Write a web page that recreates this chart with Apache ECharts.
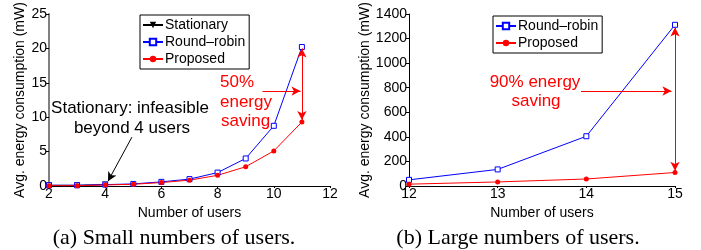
<!DOCTYPE html>
<html>
<head>
<meta charset="utf-8">
<script src="https://cdn.jsdelivr.net/npm/echarts@6/dist/echarts.min.js"></script>
<style>
html,body{margin:0;padding:0;background:#fff;}
#main{width:701px;height:250px;}
</style>
</head>
<body>
<div id="main"></div>
<script>
// (a) small numbers of users
var usersSmall = [2, 3, 4, 5, 6, 7, 8, 9, 10, 11];
var stationarySmall = [0.1, 0.1, 0.2];
var roundRobinSmall = [0.1, 0.1, 0.2, 0.3, 0.6, 1.0, 1.95, 4.0, 8.75, 20.2];
var proposedSmall = [0.05, 0.05, 0.15, 0.25, 0.5, 0.85, 1.55, 2.8, 5.1, 9.3];

// (b) large numbers of users
var usersLarge = [12, 13, 14, 15];
var roundRobinLarge = [50, 135, 405, 1312];
var proposedLarge = [15, 33, 57, 110];

function pairs(xs, ys) {
    var out = [];
    for (var i = 0; i < ys.length; i++) {
        out.push([xs[i], ys[i]]);
    }
    return out;
}

var font = 'Liberation Sans';

function xAxisOf(grid, min, max, step) {
    return {
        type: 'value', gridIndex: grid, min: min, max: max, interval: step,
        name: 'Number of users', nameLocation: 'middle', nameGap: 17,
        nameTextStyle: {color: '#000', fontSize: 14, fontFamily: font},
        axisLine: {lineStyle: {color: '#000', width: 1}},
        axisTick: {inside: false, length: 2, lineStyle: {color: '#000'}},
        axisLabel: {color: '#000', fontSize: 14, fontFamily: font, margin: 1},
        splitLine: {show: false}
    };
}

function yAxisOf(grid, min, max, step, gap, lineColor, lineWidth) {
    return {
        type: 'value', gridIndex: grid, min: min, max: max, interval: step,
        name: 'Avg. energy consumption (mW)', nameLocation: 'middle', nameGap: gap,
        nameTextStyle: {color: '#000', fontSize: 14, fontFamily: font},
        axisLine: {show: true, lineStyle: {color: lineColor, width: lineWidth}},
        axisTick: {show: true, inside: false, length: 3, lineStyle: {color: '#000'}},
        axisLabel: {color: '#000', fontSize: 14, fontFamily: font, margin: 2,
            formatter: function (v) { return String(v); }},
        splitLine: {show: false}
    };
}

var legendBase = {
    orient: 'vertical', backgroundColor: '#fff', borderColor: '#000', borderWidth: 1,
    padding: [3, 4, 3, 2], itemGap: 3, itemWidth: 20, itemHeight: 8,
    textStyle: {color: '#000', fontSize: 14, fontFamily: font, padding: [0, 0, 0, -3]},
    selectedMode: false
};

var red = '#ff0000', blue = '#0000ff';

// annotation arrows, given in data coordinates
function arrowLine(color, segs) {
    return {
        silent: true, symbolSize: [7, 9],
        lineStyle: {color: color, width: 1, type: 'solid'},
        label: {show: false}, emphasis: {disabled: true},
        data: segs.map(function (s) {
            return [{coord: s[0], symbol: s[2]}, {coord: s[1], symbol: s[3]}];
        })
    };
}

var option = {
    backgroundColor: '#fff',
    animation: false,
    grid: [
        {left: 49, right: 371, top: 14, bottom: 64},
        {left: 409, right: 26, top: 14, bottom: 64}
    ],
    xAxis: [xAxisOf(0, 2, 12, 2), xAxisOf(1, 12, 15, 1)],
    yAxis: [yAxisOf(0, 0, 25, 5, 20, '#808080', 2), yAxisOf(1, 0, 1400, 200, 24, '#000', 1)],
    legend: [
        Object.assign({}, legendBase, {left: 140, top: 15, data: ['Stationary', 'Round–robin', 'Proposed']}),
        Object.assign({}, legendBase, {left: 493, top: 16, data: ['Round–robin', 'Proposed']})
    ],
    series: [
        {
            name: 'Stationary', type: 'line', xAxisIndex: 0, yAxisIndex: 0,
            data: pairs(usersSmall, stationarySmall),
            symbol: 'triangle', symbolRotate: 180, symbolSize: 6,
            itemStyle: {color: '#000'}, lineStyle: {color: '#000', width: 1},
            markLine: arrowLine('#000', [[[4.95, 7.1], [4.1, 0.7], 'none', 'arrow']])
        },
        {
            name: 'Round–robin', type: 'line', xAxisIndex: 0, yAxisIndex: 0,
            data: pairs(usersSmall, roundRobinSmall),
            symbol: 'rect', symbolSize: 5, showAllSymbol: true,
            itemStyle: {color: '#fff', borderColor: blue, borderWidth: 1},
            lineStyle: {color: blue, width: 1}
        },
        {
            name: 'Proposed', type: 'line', xAxisIndex: 0, yAxisIndex: 0,
            data: pairs(usersSmall, proposedSmall),
            symbol: 'circle', symbolSize: 5, showAllSymbol: true,
            itemStyle: {color: red}, lineStyle: {color: red, width: 1},
            markLine: arrowLine(red, [
                [[11, 20.0], [11, 9.6], 'arrow', 'arrow'],
                [[9.6, 13.8], [10.95, 13.8], 'none', 'arrow']
            ])
        },
        {
            name: 'Round–robin', type: 'line', xAxisIndex: 1, yAxisIndex: 1,
            data: pairs(usersLarge, roundRobinLarge),
            symbol: 'rect', symbolSize: 5, showAllSymbol: true,
            itemStyle: {color: '#fff', borderColor: blue, borderWidth: 1},
            lineStyle: {color: blue, width: 1}
        },
        {
            name: 'Proposed', type: 'line', xAxisIndex: 1, yAxisIndex: 1,
            data: pairs(usersLarge, proposedLarge),
            symbol: 'circle', symbolSize: 5, showAllSymbol: true,
            itemStyle: {color: red}, lineStyle: {color: red, width: 1},
            markLine: arrowLine(red, [
                [[15, 1290], [15, 125], 'arrow', 'arrow'],
                [[13.94, 773], [14.96, 773], 'none', 'arrow']
            ])
        }
    ],
    graphic: [
        {type: 'text', x: 130, y: 108, style: {text: 'Stationary: infeasible', fill: '#000', fontSize: 17, fontFamily: font, textAlign: 'center', textVerticalAlign: 'middle'}},
        {type: 'text', x: 132, y: 128, style: {text: 'beyond 4 users', fill: '#000', fontSize: 17, fontFamily: font, textAlign: 'center', textVerticalAlign: 'middle'}},
        {type: 'text', x: 220, y: 82, style: {text: '50%', fill: red, fontSize: 17, fontFamily: font, textAlign: 'left', textVerticalAlign: 'middle'}},
        {type: 'text', x: 220, y: 102, style: {text: 'energy', fill: red, fontSize: 17, fontFamily: font, textAlign: 'left', textVerticalAlign: 'middle'}},
        {type: 'text', x: 221, y: 121, style: {text: 'saving', fill: red, fontSize: 17, fontFamily: font, textAlign: 'left', textVerticalAlign: 'middle'}},
        {type: 'text', x: 535, y: 82, style: {text: '90% energy', fill: red, fontSize: 17, fontFamily: font, textAlign: 'center', textVerticalAlign: 'middle'}},
        {type: 'text', x: 536, y: 101, style: {text: 'saving', fill: red, fontSize: 17, fontFamily: font, textAlign: 'center', textVerticalAlign: 'middle'}},
        {type: 'text', x: 174, y: 238, style: {text: '(a) Small numbers of users.', fill: '#000', fontSize: 22, fontFamily: 'Liberation Serif', textAlign: 'center', textVerticalAlign: 'middle'}},
        {type: 'text', x: 518, y: 238, style: {text: '(b) Large numbers of users.', fill: '#000', fontSize: 22, fontFamily: 'Liberation Serif', textAlign: 'center', textVerticalAlign: 'middle'}}
    ]
};

var myChart = echarts.init(document.getElementById('main'), null, {renderer: 'canvas'});
myChart.setOption(option);
</script>
</body>
</html>
